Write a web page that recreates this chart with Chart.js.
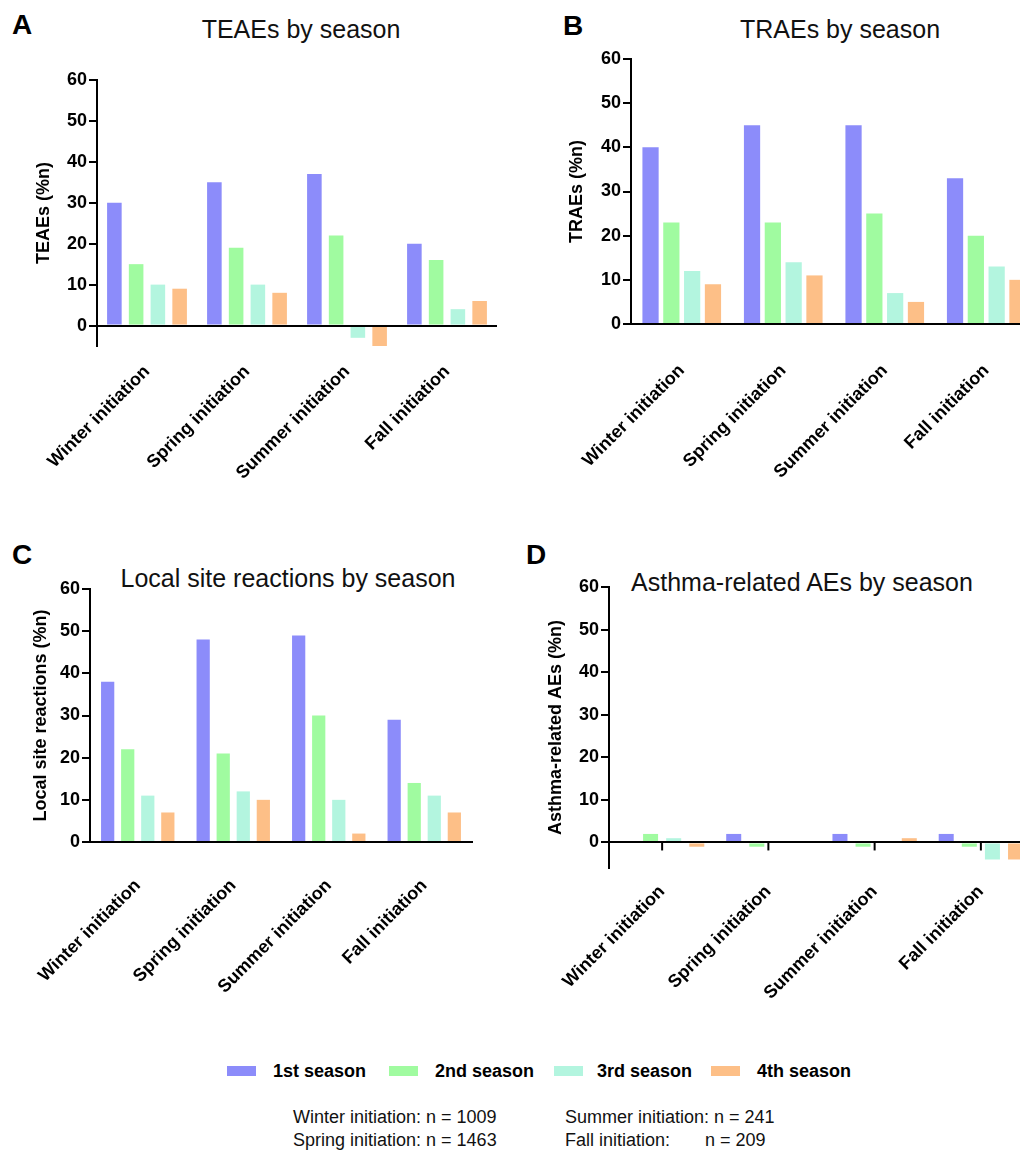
<!DOCTYPE html>
<html>
<head>
<meta charset="utf-8">
<script src="https://cdn.jsdelivr.net/npm/chart.js@4.4.1/dist/chart.umd.min.js"></script>
<style>
  body { margin: 0; background: #fff; overflow: hidden; }
  #fig { position: relative; width: 1020px; height: 1152px; overflow: hidden; background: #fff;
         font-family: "Liberation Sans", Arial, sans-serif; color: #000; }
  #fig canvas { position: absolute; }
  .letter { position: absolute; font-weight: bold; font-size: 28px; line-height: 28px; }
  .ptitle { position: absolute; width: 500px; text-align: center; font-size: 25px; line-height: 25px; color: #111; }
  .leg { position: absolute; font-weight: bold; font-size: 18px; line-height: 18px; white-space: nowrap; }
  .legbox { position: absolute; width: 29px; height: 10px; }
  .note { position: absolute; font-size: 18px; line-height: 18px; white-space: nowrap; color: #111; }
  .note span { display: inline-block; margin-right: 5px; }
</style>
</head>
<body>
<div id="fig">
  <div class="letter" style="left:12px;top:11px">A</div>
  <div class="letter" style="left:563px;top:12px">B</div>
  <div class="letter" style="left:12px;top:541px">C</div>
  <div class="letter" style="left:526px;top:541px">D</div>

  <div class="ptitle" style="left:51px;top:17px">TEAEs by season</div>
  <div class="ptitle" style="left:590px;top:17px">TRAEs by season</div>
  <div class="ptitle" style="left:38px;top:566px">Local site reactions by season</div>
  <div class="ptitle" style="left:552px;top:570px">Asthma-related AEs by season</div>

  <canvas id="chartA" width="510" height="456" style="left:0;top:60px"></canvas>
  <canvas id="chartB" width="530" height="454" style="left:510px;top:40px"></canvas>
  <canvas id="chartC" width="485" height="442" style="left:0;top:570px"></canvas>
  <canvas id="chartD" width="530" height="448" style="left:510px;top:570px"></canvas>

  <div id="legend"></div>
  <div id="notes"></div>
</div>

<script>
const categories = ["Winter initiation", "Spring initiation", "Summer initiation", "Fall initiation"];
const seasons = ["1st season", "2nd season", "3rd season", "4th season"];
const seasonColors = ["#8c8cfa", "#a0fba0", "#b3f5df", "#fdbf87"];
const yTicks = [0, 10, 20, 30, 40, 50, 60];

// one array per season, values in category order
const teae1 = [30, 35, 37, 20];
const teae2 = [15, 19, 22, 16];
const teae3 = [10, 10, -3, 4];
const teae4 = [9, 8, -5, 6];

const trae1 = [40, 45, 45, 33];
const trae2 = [23, 23, 25, 20];
const trae3 = [12, 14, 7, 13];
const trae4 = [9, 11, 5, 10];

const local1 = [38, 48, 49, 29];
const local2 = [22, 21, 30, 14];
const local3 = [11, 12, 10, 11];
const local4 = [7, 10, 2, 7];

const asthma1 = [0, 2, 2, 2];
const asthma2 = [2, -1, -1, -1];
const asthma3 = [1, 0, 0, -4];
const asthma4 = [-1, 0, 1, -4];

const cohorts = ["Winter initiation", "Spring initiation", "Summer initiation", "Fall initiation"];
const cohortN = [1009, 1463, 241, 209];

Chart.defaults.font.family = "'Liberation Sans', Arial, sans-serif";
Chart.defaults.color = "#000";

const tickFont = { size: 18, weight: "bold" };
const titleFont = { size: 18, weight: "bold" };

// small tick marks under the zero line at each category (panel D)
const zeroTicks = {
    id: "zeroTicks",
    afterDatasetsDraw(chart) {
        const { ctx, scales: { x, y } } = chart;
        const y0 = y.getPixelForValue(0);
        ctx.save();
        ctx.strokeStyle = "#000";
        ctx.lineWidth = 2;
        x.ticks.forEach((t, i) => {
            const px = x.getPixelForTick(i);
            ctx.beginPath();
            ctx.moveTo(px, y0);
            ctx.lineTo(px, y0 + 8);
            ctx.stroke();
        });
        ctx.restore();
    }
};

function buildChart(id, series, yTitle, cfg) {
    return new Chart(document.getElementById(id), {
        type: "bar",
        data: {
            labels: categories,
            datasets: series.map((vals, i) => ({
                label: seasons[i],
                data: vals,
                backgroundColor: seasonColors[i],
                borderWidth: 0,
                categoryPercentage: cfg.cat,
                barPercentage: cfg.bar
            }))
        },
        options: {
            responsive: false,
            animation: false,
            devicePixelRatio: 1,
            layout: { padding: { left: 0, top: cfg.padTop, right: cfg.padRight, bottom: 0 } },
            plugins: { legend: { display: false }, tooltip: { enabled: false } },
            scales: {
                x: {
                    grid: { display: false },
                    border: { display: cfg.xBorder, color: "#000", width: 2 },
                    ticks: {
                        font: tickFont,
                        color: "#000",
                        minRotation: 45,
                        maxRotation: 45,
                        autoSkip: false,
                        padding: cfg.labelPad
                    },
                    afterFit: s => { s.height = cfg.xHeight; }
                },
                y: {
                    min: cfg.min,
                    max: 60,
                    afterBuildTicks: s => { s.ticks = yTicks.map(v => ({ value: v })); },
                    afterFit: s => { s.width = cfg.yWidth; },
                    border: { color: "#000", width: 2, z: 2 },
                    grid: {
                        z: 1,
                        lineWidth: 2,
                        color: c => (c.tick && c.tick.value === 0 ? "#000" : "rgba(0,0,0,0)"),
                        tickColor: "#000",
                        tickLength: 8
                    },
                    ticks: { font: tickFont, color: "#000", padding: 2 },
                    title: {
                        display: true,
                        text: yTitle,
                        font: titleFont,
                        color: "#000",
                        padding: { top: cfg.titlePad, bottom: 0 }
                    }
                }
            }
        },
        plugins: cfg.zeroTicks ? [zeroTicks] : []
    });
}

buildChart("chartA", [teae1, teae2, teae3, teae4], "TEAEs (%n)", {
    cat: 0.87, bar: 0.67, min: -5, padTop: 20, padRight: 13, yWidth: 97, xHeight: 170,
    xBorder: false, labelPad: 7, titlePad: 33, zeroTicks: false
});
buildChart("chartB", [trae1, trae2, trae3, trae4], "TRAEs (%n)", {
    cat: 0.82, bar: 0.78, min: 0, padTop: 19, padRight: 3, yWidth: 121, xHeight: 170,
    xBorder: true, labelPad: 28, titlePad: 56, zeroTicks: false
});
buildChart("chartC", [local1, local2, local3, local4], "Local site reactions (%n)", {
    cat: 0.84, bar: 0.66, min: 0, padTop: 19, padRight: 13, yWidth: 90, xHeight: 170,
    xBorder: true, labelPad: 25, titlePad: 30, zeroTicks: false
});
buildChart("chartD", [asthma1, asthma2, asthma3, asthma4], "Asthma-related AEs (%n)", {
    cat: 0.87, bar: 0.65, min: -6, padTop: 17, padRight: 6, yWidth: 99, xHeight: 150,
    xBorder: false, labelPad: 5, titlePad: 35, zeroTicks: true
});

// shared legend
const legend = document.getElementById("legend");
const legBoxX = [227, 389, 554, 711];
const legTextX = [273, 435, 597, 757];
seasons.forEach((s, i) => {
    const box = document.createElement("div");
    box.className = "legbox";
    box.style.left = legBoxX[i] + "px";
    box.style.top = "1066px";
    box.style.background = seasonColors[i];
    legend.appendChild(box);
    const txt = document.createElement("div");
    txt.className = "leg";
    txt.style.left = legTextX[i] + "px";
    txt.style.top = "1062px";
    txt.textContent = s;
    legend.appendChild(txt);
});

// sample sizes
const notes = document.getElementById("notes");
const noteX = [293, 293, 565, 565];
const noteY = [1108, 1131, 1108, 1131];
const nameWidth = [120, 120, 135, 135];
cohorts.forEach((c, i) => {
    const line = document.createElement("div");
    line.className = "note";
    line.style.left = noteX[i] + "px";
    line.style.top = noteY[i] + "px";
    const name = document.createElement("span");
    name.style.minWidth = nameWidth[i] + "px";
    name.textContent = c + ":";
    line.appendChild(name);
    line.appendChild(document.createTextNode("n = " + cohortN[i]));
    notes.appendChild(line);
});
</script>
</body>
</html>
